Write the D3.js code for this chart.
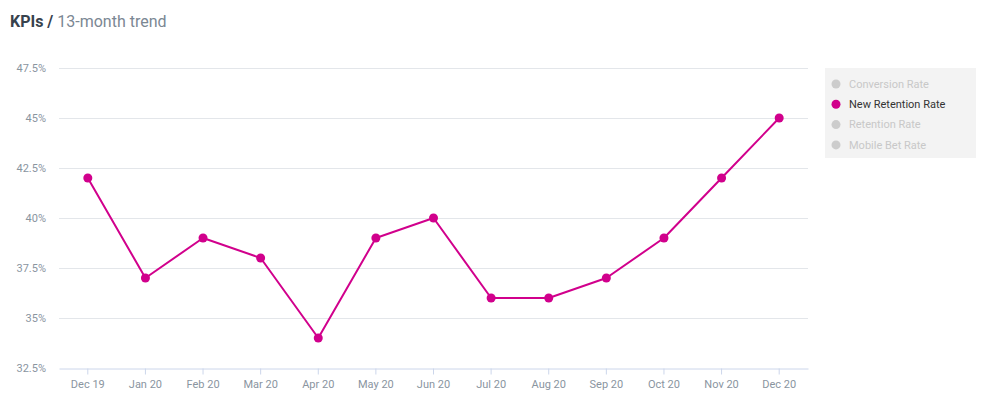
<!DOCTYPE html>
<html><head><meta charset="utf-8">
<script src="https://cdn.jsdelivr.net/npm/d3@7"></script>
<style>
body{margin:0;background:#fff;font-family:Roboto,"Open Sans",sans-serif;}
svg{display:block}
</style></head>
<body><svg id="c" width="1000" height="408"></svg>
<script>
const categories = ["Dec 19","Jan 20","Feb 20","Mar 20","Apr 20","May 20","Jun 20","Jul 20","Aug 20","Sep 20","Oct 20","Nov 20","Dec 20"];
const newRetentionRate = [42,37,39,38,34,39,40,36,36,37,39,42,45];
const yTicks = [32.5,35,37.5,40,42.5,45,47.5];
const legendItems = ["Conversion Rate","New Retention Rate","Retention Rate","Mobile Bet Rate"];
const activeSeries = "New Retention Rate";

(function(){
const svg = d3.select("#c");
const color = "#d1008c";
const mLeft = 59, mRight = 808, mTop = 68, mBottom = 368;

const x = d3.scaleBand().domain(categories).range([mLeft, mRight]);
const y = d3.scaleLinear().domain([32.5, 47.5]).range([mBottom, mTop]);

// title
const title = svg.append("text").attr("x", 10).attr("y", 27).style("font-size","16px");
title.append("tspan").text("KPIs / ").attr("font-weight","700").attr("fill","#37424d");
title.append("tspan").text("13-month trend").attr("fill","#7b8793");

// grid
svg.append("g").selectAll("line").data(yTicks.filter(d=>d>32.5)).join("line")
  .attr("x1", mLeft).attr("x2", mRight)
  .attr("y1", d=>y(d)+0.5).attr("y2", d=>y(d)+0.5)
  .attr("stroke","#e3e6ea").attr("stroke-width",1);

// y axis labels
const fmt = d => (Number.isInteger(d) ? d : d.toFixed(1)) + "%";
const ya = svg.append("g").attr("transform", `translate(${mLeft-13},0)`)
  .call(d3.axisLeft(y).tickValues(yTicks).tickFormat(fmt).tickSize(0).tickPadding(0));
ya.select(".domain").remove();
ya.selectAll("text").attr("fill","#8a959f").style("font-size","11px").style("font-family","Roboto,sans-serif");

// x axis
const xa = svg.append("g").attr("transform", `translate(0,${mBottom+0.5})`)
  .call(d3.axisBottom(x).tickSize(6).tickPadding(6).tickSizeOuter(0));
xa.select(".domain").attr("stroke","#ccd6eb");
xa.selectAll(".tick line").attr("stroke","#ccd6eb");
xa.selectAll("text").attr("fill","#8a959f").style("font-size","11px").style("font-family","Roboto,sans-serif");

// line
const cx = d => x(d) + x.bandwidth()/2;
const line = d3.line().x((d,i)=>cx(categories[i])).y(d=>y(d));
svg.append("path").datum(newRetentionRate).attr("d", line)
  .attr("fill","none").attr("stroke",color).attr("stroke-width",2).attr("stroke-linejoin","round");
svg.append("g").selectAll("circle").data(newRetentionRate).join("circle")
  .attr("cx",(d,i)=>cx(categories[i])).attr("cy",d=>y(d)).attr("r",4.5).attr("fill",color);

// legend
const lg = svg.append("g");
lg.append("rect").attr("x",825).attr("y",68).attr("width",151).attr("height",90).attr("fill","#f3f3f3");
const li = lg.selectAll("g.it").data(legendItems).join("g").attr("class","it")
  .attr("transform",(d,i)=>`translate(836,${84+i*20.3})`);
li.append("circle").attr("r",4.5).attr("fill",d=>d===activeSeries?color:"#cccccc");
li.append("text").attr("x",13).attr("dy","0.35em").text(d=>d)
  .attr("fill",d=>d===activeSeries?"#333333":"#c8c8c8").style("font-size","11px");
})();
</script></body></html>
